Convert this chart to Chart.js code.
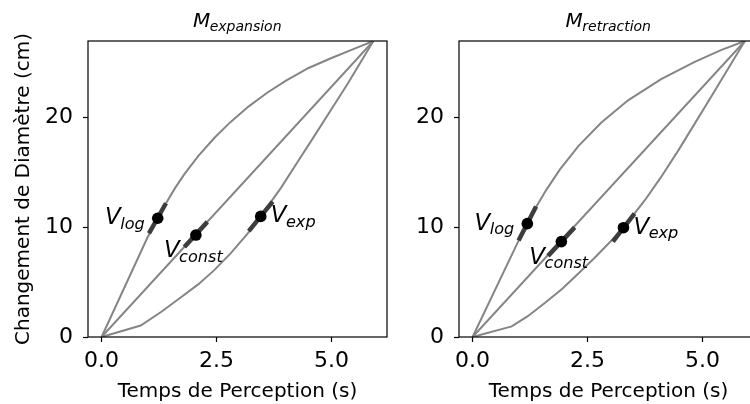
<!DOCTYPE html>
<html>
<head>
<meta charset="utf-8">
<script src="https://cdn.jsdelivr.net/npm/chart.js@4.4.1/dist/chart.umd.min.js"></script>
<style>
    html, body { margin: 0; padding: 0; background: #fff; }
    body { width: 750px; height: 404px; overflow: hidden; position: relative; }
    canvas { position: absolute; top: 0; }
</style>
</head>
<body>
<canvas id="chartExpansion" width="400" height="404" style="left:0px"></canvas>
<canvas id="chartRetraction" width="400" height="404" style="left:371px"></canvas>
<script>
// axes
const xTicks = [0, 2.5, 5.0]
const yTicks = [0, 10, 20]
const xLimits = [-0.2955, 6.2055]
const yLimits = [0, 27]
const curveNames = ['log', 'const', 'exp']

// M_expansion
const expansionLogX = [0, 1.0, 1.22, 1.4, 1.6, 1.8, 2.1, 2.45, 2.8, 3.2, 3.6, 4.0, 4.5, 5.0, 5.5, 5.91]
const expansionLogY = [0, 9.1, 10.83, 12.2, 13.6, 14.86, 16.5, 18.15, 19.6, 21.04, 22.28, 23.36, 24.54, 25.45, 26.3, 27.0]
const expansionConstX = [0, 5.91]
const expansionConstY = [0, 27.0]
const expansionExpX = [0, 0.85, 1.3, 1.72, 2.1, 2.45, 2.8, 3.17, 3.46, 3.9, 4.25, 4.62, 5.0, 5.35, 5.91]
const expansionExpY = [0, 1.05, 2.3, 3.6, 4.8, 6.1, 7.6, 9.4, 11.0, 13.6, 15.9, 18.3, 20.8, 23.1, 27.0]
const expansionDotX = [1.22, 2.05, 3.46]
const expansionDotY = [10.83, 9.3, 11.0]
const expansionTangentX = [[1.03, 1.40], [1.80, 2.30], [3.20, 3.72]]
const expansionTangentY = [[9.45, 12.2], [8.2, 10.5], [9.65, 12.35]]

// M_retraction
const retractionLogX = [0, 0.99, 1.19, 1.4, 1.6, 1.9, 2.3, 2.8, 3.38, 4.1, 4.83, 5.4, 5.92]
const retractionLogY = [0, 8.7, 10.34, 12.0, 13.4, 15.29, 17.41, 19.56, 21.59, 23.53, 25.1, 26.17, 27.0]
const retractionConstX = [0, 5.92]
const retractionConstY = [0, 27.0]
const retractionExpX = [0, 0.85, 1.2, 1.57, 1.95, 2.3, 2.65, 3.02, 3.28, 3.75, 4.1, 4.47, 4.85, 5.2, 5.92]
const retractionExpY = [0, 0.97, 1.9, 3.1, 4.4, 5.8, 7.2, 8.8, 9.97, 12.5, 14.6, 17.0, 19.6, 22.0, 27.0]
const retractionDotX = [1.19, 1.93, 3.28]
const retractionDotY = [10.34, 8.7, 9.97]
const retractionTangentX = [[1.0, 1.38], [1.64, 2.22], [3.05, 3.52]]
const retractionTangentY = [[8.8, 11.9], [7.4, 10.0], [8.7, 11.25]]

const FONT = 'DejaVu Sans'
Chart.defaults.font.family = FONT

// where each V label sits relative to its dot (px), and how it is aligned
const labelPlacement = {
    log: { dx: -12.5, dy: 6, align: 'right' },
    const: { dx: -32, dy: 22, align: 'left' },
    exp: { dx: 10, dy: 6, align: 'left' },
}

function pts(xs, ys) {
    return xs.map((x, i) => ({ x: x, y: ys[i] }))
}

// base letter in italic, subscript smaller and lowered, like matplotlib mathtext
function drawMath(ctx, base, sub, x, y, size, align) {
    const subSize = size * 0.7
    ctx.font = 'italic ' + size + 'px "' + FONT + '"'
    const wBase = ctx.measureText(base).width
    ctx.font = 'italic ' + subSize + 'px "' + FONT + '"'
    const wSub = ctx.measureText(sub).width
    let left = x
    if (align === 'right') left = x - wBase - wSub
    if (align === 'center') left = x - (wBase + wSub) / 2
    ctx.fillStyle = '#000'
    ctx.textAlign = 'left'
    ctx.textBaseline = 'alphabetic'
    ctx.font = 'italic ' + size + 'px "' + FONT + '"'
    ctx.fillText(base, left, y)
    ctx.font = 'italic ' + subSize + 'px "' + FONT + '"'
    ctx.fillText(sub, left + wBase - 0.5, y + size * 0.2)
}

const panelPlugin = {
    id: 'panelExtras',
    afterDatasetsDraw(chart) {
        const ctx = chart.ctx
        const area = chart.chartArea
        ctx.save()
        // frame around the axes
        ctx.strokeStyle = '#000'
        ctx.lineWidth = 1.2
        ctx.strokeRect(area.left, area.top, area.right - area.left, area.bottom - area.top)

        // V labels next to the dots
        const dotMeta = chart.getDatasetMeta(chart.data.datasets.length - 1)
        curveNames.forEach((name, i) => {
            const p = dotMeta.data[i]
            const pl = labelPlacement[name]
            drawMath(ctx, 'V', name, p.x + pl.dx, p.y + pl.dy, 23, pl.align)
        })

        // title
        const cx = (area.left + area.right) / 2
        drawMath(ctx, 'M', chart.options.plugins.panelExtras.sub, cx, 27, 20, 'center')
        ctx.restore()
    }
}

function makePanel(canvasId, sub, curves, dotX, dotY, tanX, tanY, showYTitle) {
    const datasets = []
    curves.forEach(c => {
        datasets.push({
            data: pts(c[0], c[1]),
            borderColor: '#858585',
            borderWidth: 2,
            pointRadius: 0,
            tension: 0,
            order: 3,
        })
    })
    tanX.forEach((tx, i) => {
        datasets.push({
            data: pts(tx, tanY[i]),
            borderColor: '#3d3d3d',
            borderWidth: 4.5,
            borderCapStyle: 'butt',
            pointRadius: 0,
            order: 2,
        })
    })
    datasets.push({
        data: pts(dotX, dotY),
        showLine: false,
        pointRadius: 5.8,
        pointBorderWidth: 0,
        pointBackgroundColor: '#000',
        order: 1,
    })

    return new Chart(document.getElementById(canvasId), {
        type: 'line',
        data: { datasets: datasets },
        options: {
            responsive: false,
            devicePixelRatio: 1,
            animation: false,
            events: [],
            layout: { padding: { left: 0, top: 41, right: 13, bottom: 0 } },
            plugins: {
                legend: { display: false },
                tooltip: { enabled: false },
                panelExtras: { sub: sub },
            },
            scales: {
                x: {
                    type: 'linear',
                    min: xLimits[0],
                    max: xLimits[1],
                    afterBuildTicks: s => { s.ticks = xTicks.map(v => ({ value: v })) },
                    afterFit: s => { s.height = 67 },
                    ticks: {
                        callback: v => v.toFixed(1),
                        color: '#000',
                        font: { size: 22 },
                        padding: 6,
                        maxRotation: 0,
                    },
                    grid: { drawOnChartArea: false, drawTicks: true, tickLength: 5, tickColor: '#000', tickWidth: 1.2 },
                    border: { display: false },
                    title: {
                        display: true,
                        text: 'Temps de Perception (s)',
                        color: '#000',
                        font: { size: 20 },
                        padding: { top: 0, bottom: 0 },
                    },
                },
                y: {
                    type: 'linear',
                    min: yLimits[0],
                    max: yLimits[1],
                    afterBuildTicks: s => { s.ticks = yTicks.map(v => ({ value: v })) },
                    afterFit: s => { s.width = 88 },
                    ticks: { color: '#000', font: { size: 22 }, padding: 10 },
                    grid: { drawOnChartArea: false, drawTicks: true, tickLength: 5, tickColor: '#000', tickWidth: 1.2 },
                    border: { display: false },
                    title: {
                        display: showYTitle,
                        text: 'Changement de Diamètre (cm)',
                        color: '#000',
                        font: { size: 20 },
                        padding: { top: 12, bottom: 0 },
                    },
                },
            },
        },
        plugins: [panelPlugin],
    })
}

makePanel('chartExpansion', 'expansion',
    [[expansionLogX, expansionLogY], [expansionConstX, expansionConstY], [expansionExpX, expansionExpY]],
    expansionDotX, expansionDotY, expansionTangentX, expansionTangentY, true)

makePanel('chartRetraction', 'retraction',
    [[retractionLogX, retractionLogY], [retractionConstX, retractionConstY], [retractionExpX, retractionExpY]],
    retractionDotX, retractionDotY, retractionTangentX, retractionTangentY, false)
</script>
</body>
</html>
